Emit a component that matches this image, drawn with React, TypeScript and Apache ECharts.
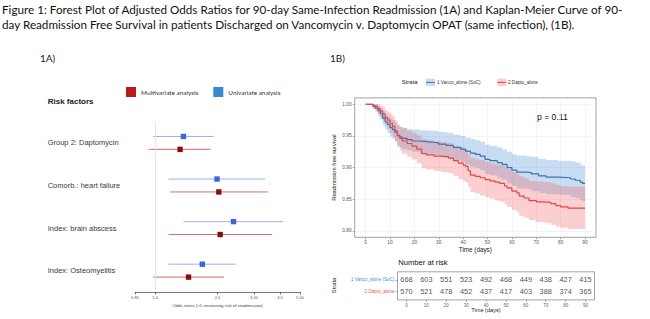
import React, { useEffect, useRef } from "react";
import * as echarts from "echarts";

// ---------- 1A: forest plot ----------
const riskFactors = [
  "Group 2: Daptomycin",
  "Comorb.: heart failure",
  "Index: brain abscess",
  "Index: Osteomyelitis",
];
const uniOR = [1.37, 1.99, 2.39, 1.69];
const uniLow = [0.98, 1.16, 1.37, 1.16];
const uniHigh = [1.92, 3.39, 4.15, 2.45];
const multiOR = [1.32, 2.03, 2.06, 1.45];
const multiLow = [0.93, 1.18, 1.16, 0.98];
const multiHigh = [1.85, 3.5, 3.67, 2.15];
const orTicks = [0.8, 1, 2, 3, 4, 5];
const orTickLabels = ["0.80", "1.0", "2.0", "3.00", "4.0", "5.00"];

// ---------- 1B: Kaplan-Meier ----------
const vancoTime = [0, 3, 4, 5, 6, 7, 8, 9, 10, 11, 12, 13, 14, 15, 17, 19, 22, 25, 28, 30, 33, 36, 39, 41, 43, 45, 47, 49, 51, 54, 56, 58, 60, 62, 66, 68, 71, 74, 79, 84, 86, 88, 89, 90];
const vancoSurv = [1.0, 0.997, 0.994, 0.99, 0.985, 0.978, 0.972, 0.968, 0.963, 0.96, 0.956, 0.951, 0.948, 0.946, 0.944, 0.942, 0.941, 0.94, 0.939, 0.937, 0.935, 0.932, 0.929, 0.926, 0.923, 0.921, 0.918, 0.913, 0.911, 0.908, 0.905, 0.9, 0.896, 0.893, 0.892, 0.89, 0.887, 0.885, 0.884, 0.882, 0.88, 0.877, 0.875, 0.874];
const vancoLower = [1.0, 0.993, 0.988, 0.982, 0.976, 0.967, 0.96, 0.955, 0.949, 0.945, 0.941, 0.935, 0.932, 0.929, 0.927, 0.925, 0.923, 0.922, 0.92, 0.918, 0.915, 0.912, 0.908, 0.905, 0.901, 0.899, 0.896, 0.89, 0.888, 0.884, 0.881, 0.875, 0.871, 0.867, 0.866, 0.863, 0.86, 0.858, 0.857, 0.854, 0.852, 0.849, 0.847, 0.846];
const vancoUpper = [1.0, 1.0, 1.0, 0.997, 0.994, 0.989, 0.984, 0.981, 0.977, 0.975, 0.971, 0.967, 0.964, 0.963, 0.961, 0.96, 0.959, 0.958, 0.958, 0.956, 0.955, 0.952, 0.95, 0.947, 0.945, 0.943, 0.941, 0.936, 0.934, 0.932, 0.929, 0.925, 0.921, 0.919, 0.918, 0.917, 0.914, 0.912, 0.911, 0.91, 0.908, 0.905, 0.903, 0.902];

const daptoTime = [0, 3, 5, 6, 7, 8, 9, 10, 11, 12, 13, 14, 15, 17, 19, 21, 23, 25, 28, 31, 34, 36, 38, 40, 41, 42, 43, 45, 47, 49, 51, 53, 55, 57, 58, 60, 62, 63, 65, 67, 70, 73, 76, 78, 80, 83, 90];
const daptoSurv = [1.0, 0.997, 0.993, 0.989, 0.985, 0.979, 0.975, 0.97, 0.965, 0.958, 0.95, 0.946, 0.942, 0.938, 0.934, 0.929, 0.922, 0.92, 0.918, 0.917, 0.915, 0.911, 0.907, 0.904, 0.902, 0.895, 0.888, 0.886, 0.884, 0.881, 0.879, 0.877, 0.875, 0.871, 0.868, 0.863, 0.86, 0.855, 0.852, 0.848, 0.846, 0.845, 0.843, 0.84, 0.838, 0.836, 0.836];
const daptoLower = [1.0, 0.992, 0.985, 0.979, 0.974, 0.966, 0.961, 0.955, 0.949, 0.941, 0.932, 0.927, 0.922, 0.917, 0.913, 0.907, 0.899, 0.897, 0.895, 0.893, 0.891, 0.887, 0.882, 0.879, 0.877, 0.869, 0.861, 0.859, 0.856, 0.853, 0.851, 0.848, 0.846, 0.842, 0.838, 0.833, 0.829, 0.824, 0.821, 0.817, 0.814, 0.813, 0.81, 0.807, 0.805, 0.803, 0.803];
const daptoUpper = [1.0, 1.0, 1.0, 0.998, 0.996, 0.991, 0.988, 0.985, 0.981, 0.975, 0.968, 0.965, 0.962, 0.958, 0.955, 0.951, 0.945, 0.943, 0.941, 0.94, 0.939, 0.935, 0.932, 0.929, 0.927, 0.921, 0.915, 0.913, 0.912, 0.909, 0.907, 0.905, 0.904, 0.9, 0.897, 0.893, 0.89, 0.886, 0.883, 0.879, 0.878, 0.877, 0.875, 0.873, 0.871, 0.87, 0.87];

const timeTicks = [0, 10, 20, 30, 40, 50, 60, 70, 80, 90];
const survTicks = [0.8, 0.85, 0.9, 0.95, 1.0];

// Number at risk
const strataNames = ["1 Vanco_alone (SoC)", "2 Dapto_alone"];
const riskTimes = [0, 10, 20, 30, 40, 50, 60, 70, 80, 90];
const vancoAtRisk = [668, 603, 551, 523, 492, 468, 449, 438, 427, 415];
const daptoAtRisk = [570, 521, 478, 452, 437, 417, 403, 388, 374, 365];

const titleLines = [
  "Figure 1: Forest Plot of Adjusted Odds Ratios for 90-day Same-Infection Readmission (1A) and Kaplan-Meier Curve of 90-",
  "day Readmission Free Survival in patients Discharged on Vancomycin v. Daptomycin OPAT (same infection), (1B).",
];

const SANS = "Liberation Sans, Arial, sans-serif";
const LATO = "Lato, sans-serif";

const VANCO_LINE = "#3e72a8";
const DAPTO_LINE = "#e2474c";
const VANCO_FILL = "rgba(74,144,217,0.30)";
const DAPTO_FILL = "rgba(242,96,96,0.30)";

function forestSeries(name: string, lo: number[], est: number[], hi: number[], offset: number, lineColor: string, markColor: string) {
  return {
    type: "custom",
    name,
    xAxisIndex: 0,
    yAxisIndex: 0,
    data: est.map((e, i) => [i, lo[i], e, hi[i]]),
    encode: { x: [1, 2, 3], y: 0 },
    renderItem: (_params: any, api: any) => {
      const y = api.value(0) + offset;
      const p1 = api.coord([api.value(1), y]);
      const p2 = api.coord([api.value(3), y]);
      const pc = api.coord([api.value(2), y]);
      const s = 5.4;
      return {
        type: "group",
        children: [
          { type: "line", shape: { x1: p1[0], y1: p1[1], x2: p2[0], y2: p2[1] }, style: { stroke: lineColor, lineWidth: 0.9 } },
          { type: "rect", shape: { x: pc[0] - s / 2, y: pc[1] - s / 2, width: s, height: s }, style: { fill: markColor } },
        ],
      };
    },
  };
}

// Confidence band drawn as one stepped polygon (upper edge forward, lower edge back)
function bandSeries(time: number[], lower: number[], upper: number[], fill: string) {
  return {
    type: "custom",
    xAxisIndex: 1,
    yAxisIndex: 1,
    silent: true,
    z: 1,
    data: time.map((t, i) => [t, lower[i], upper[i]]),
    encode: { x: 0, y: [1, 2] },
    renderItem: (params: any, api: any) => {
      if (params.dataIndex !== 0) return null;
      const n = time.length;
      const top: number[][] = [];
      const bottom: number[][] = [];
      for (let i = 0; i < n; i++) {
        const tEnd = i < n - 1 ? time[i + 1] : time[i];
        top.push(api.coord([time[i], upper[i]]), api.coord([tEnd, upper[i]]));
        bottom.push(api.coord([time[i], lower[i]]), api.coord([tEnd, lower[i]]));
      }
      return {
        type: "polygon",
        shape: { points: top.concat(bottom.reverse()) },
        style: { fill },
      };
    },
  };
}

function curveSeries(time: number[], surv: number[], line: string, name: string) {
  return {
    type: "line",
    name,
    xAxisIndex: 1,
    yAxisIndex: 1,
    step: "end",
    symbol: "none",
    lineStyle: { color: line, width: 1.2 },
    data: time.map((t, i) => [t, surv[i]]),
    z: 3,
  };
}

function riskSeries(row: number, counts: number[]) {
  return {
    type: "scatter",
    xAxisIndex: 2,
    yAxisIndex: 2,
    symbolSize: 1,
    itemStyle: { color: "rgba(0,0,0,0)" },
    data: riskTimes.map((t, i) => [t, row, counts[i]]),
    label: {
      show: true,
      position: "inside",
      formatter: (p: any) => String(p.value[2]),
      fontSize: 7.4,
      fontFamily: SANS,
      color: "#1a1a1a",
    },
  };
}

function buildOption() {
  const t = (text: string, x: number, y: number, extra: any = {}) => ({
    type: "text",
    x,
    y,
    style: { text, fill: "#1a1a1a", verticalAlign: "middle", fontFamily: SANS, ...extra },
  });
  return {
    animation: false,
    backgroundColor: "#ffffff",
    legend: {
      data: [
        { name: "Multivariate analysis", itemStyle: { color: "#b51d1d" } },
        { name: "Univariate analysis", itemStyle: { color: "#3a86cf" } },
      ],
      left: 126,
      top: 87,
      padding: 0,
      icon: "rect",
      itemWidth: 10,
      itemHeight: 10,
      itemGap: 15,
      selectedMode: false,
      textStyle: { fontSize: 6.4, color: "#333", fontFamily: LATO },
    },
    grid: [
      { left: 135, top: 121.7, width: 165, height: 170.3 },
      { left: 354.7, top: 97.9, width: 241.3, height: 139.4, show: true, borderColor: "#8c8c8c", borderWidth: 0.8 },
      { left: 397.5, top: 271.8, width: 197, height: 28.1, show: true, borderColor: "#8c8c8c", borderWidth: 0.8 },
    ],
    xAxis: [
      {
        gridIndex: 0,
        type: "log",
        logBase: 10,
        min: 0.8,
        max: 5,
        axisLine: { onZero: false, lineStyle: { color: "#555", width: 0.8 } },
        axisTick: { customValues: orTicks, length: 2.5, lineStyle: { color: "#555", width: 0.8 } },
        axisLabel: {
          customValues: orTicks,
          formatter: (v: number) => {
            let best = 0;
            orTicks.forEach((o, i) => { if (Math.abs(o - v) < Math.abs(orTicks[best] - v)) best = i; });
            return orTickLabels[best];
          },
          fontSize: 4,
          color: "#555",
          margin: 3,
          fontFamily: SANS,
        },
        splitLine: { show: false },
        minorTick: { show: false },
        name: "Odds ratios (>1 increasing risk of readmission)",
        nameLocation: "middle",
        nameGap: 8,
        nameTextStyle: { fontSize: 4.4, color: "#444", fontFamily: SANS },
      },
      {
        gridIndex: 1,
        type: "value",
        min: -4.5,
        max: 94.5,
        axisLine: { show: false, onZero: false },
        axisTick: { customValues: timeTicks, length: 2, lineStyle: { color: "#777", width: 0.6 } },
        axisLabel: { customValues: timeTicks, fontSize: 4.8, color: "#555", margin: 3, fontFamily: SANS },
        splitLine: { show: true, lineStyle: { color: "#ececec", width: 0.6 } },
        name: "Time (days)",
        nameLocation: "middle",
        nameGap: 8.5,
        nameTextStyle: { fontSize: 6.3, color: "#222", fontFamily: SANS },
      },
      {
        gridIndex: 2,
        type: "value",
        min: -4.5,
        max: 94.5,
        axisLine: { show: false, onZero: false },
        axisTick: { customValues: riskTimes, length: 2, lineStyle: { color: "#777", width: 0.6 } },
        axisLabel: { customValues: riskTimes, fontSize: 4.5, color: "#666", margin: 3, fontFamily: SANS },
        splitLine: { show: false },
      },
    ],
    yAxis: [
      {
        gridIndex: 0,
        type: "value",
        inverse: true,
        min: -0.5,
        max: 3.5,
        axisLine: { show: false, onZero: false },
        axisTick: { show: false },
        splitLine: { show: false },
        axisLabel: {
          customValues: [0, 1, 2, 3],
          formatter: (v: number) => riskFactors[Math.round(v)] ?? "",
          align: "left",
          margin: 87.3,
          fontSize: 7.5,
          color: "#3a3a3a",
          fontFamily: SANS,
        },
      },
      {
        gridIndex: 1,
        type: "value",
        min: 0.79,
        max: 1.01,
        axisLine: { show: false, onZero: false },
        axisTick: { customValues: survTicks, length: 2, lineStyle: { color: "#777", width: 0.6 } },
        axisLabel: {
          customValues: survTicks,
          formatter: (v: number) => Number(v).toFixed(2),
          fontSize: 4.8,
          color: "#555",
          margin: 3,
          fontFamily: SANS,
        },
        splitLine: { show: true, lineStyle: { color: "#ececec", width: 0.6 } },
        name: "Readmission free survival",
        nameLocation: "middle",
        nameGap: 18,
        nameTextStyle: { fontSize: 5.8, color: "#222", fontFamily: SANS },
      },
      {
        gridIndex: 2,
        type: "value",
        inverse: true,
        min: 0.3,
        max: 2.7,
        axisLine: { show: false, onZero: false },
        axisTick: { customValues: [1, 2], length: 2, lineStyle: { color: "#777", width: 0.6 } },
        axisLabel: {
          customValues: [1, 2],
          formatter: (v: number) => strataNames[Math.round(v) - 1] ?? "",
          color: (v: any) => (String(v) === "1" ? "#4a8fd4" : "#e85a5a"),
          fontSize: 4.6,
          margin: 3,
          fontFamily: SANS,
        },
        splitLine: { show: false },
      },
    ],
    series: [
      {
        ...forestSeries("Univariate analysis", uniLow, uniOR, uniHigh, -0.153, "#8fa9ec", "#3c64dc"),
        markLine: {
          silent: true,
          symbol: "none",
          label: { show: false },
          lineStyle: { color: "#e2e2e2", type: "solid", width: 0.8 },
          data: [{ xAxis: 1 }],
        },
      },
      forestSeries("Multivariate analysis", multiLow, multiOR, multiHigh, 0.15, "#d65b5b", "#8b0d0d"),
      bandSeries(vancoTime, vancoLower, vancoUpper, VANCO_FILL),
      bandSeries(daptoTime, daptoLower, daptoUpper, DAPTO_FILL),
      curveSeries(vancoTime, vancoSurv, VANCO_LINE, strataNames[0]),
      curveSeries(daptoTime, daptoSurv, DAPTO_LINE, strataNames[1]),
      riskSeries(1, vancoAtRisk),
      riskSeries(2, daptoAtRisk),
    ],
    graphic: [
      t(titleLines[0], 2, 9, { fontSize: 11.7, fontFamily: LATO, fill: "#111" }),
      t(titleLines[1], 2, 24, { fontSize: 11.7, fontFamily: LATO, fill: "#111" }),
      t("1A)", 40, 58.3, { fontSize: 10, fontFamily: LATO }),
      t("1B)", 330, 58.3, { fontSize: 10, fontFamily: LATO }),
      t("Risk factors", 47.7, 101, { fontSize: 8, fontWeight: "bold", fill: "#222" }),
      // KM legend
      t("Strata", 401.7, 82.3, { fontSize: 6, fill: "#222" }),
      { type: "rect", shape: { x: 426, y: 78.7, width: 9, height: 7.4 }, style: { fill: VANCO_FILL } },
      { type: "line", shape: { x1: 426, y1: 82.4, x2: 435, y2: 82.4 }, style: { stroke: VANCO_LINE, lineWidth: 1 } },
      t(strataNames[0], 437, 82.4, { fontSize: 4.6, fill: "#333" }),
      { type: "rect", shape: { x: 497.3, y: 78.7, width: 9, height: 7.4 }, style: { fill: DAPTO_FILL } },
      { type: "line", shape: { x1: 497.3, y1: 82.4, x2: 506.3, y2: 82.4 }, style: { stroke: DAPTO_LINE, lineWidth: 1 } },
      t(strataNames[1], 508, 82.4, { fontSize: 4.6, fill: "#333" }),
      t("p = 0.11", 537, 117.3, { fontSize: 8.6, fill: "#111" }),
      // risk table
      t("Number at risk", 398.3, 262.3, { fontSize: 7.6, fill: "#111" }),
      t("Time (days)", 486, 309.5, { fontSize: 5.6, fill: "#222", align: "center" }),
      { type: "text", x: 334, y: 285.5, rotation: Math.PI / 2, style: { text: "Strata", fontSize: 5.8, fill: "#222", fontFamily: SANS, align: "center", verticalAlign: "middle" } },
    ],
  };
}

export default function App() {
  const ref = useRef<HTMLDivElement>(null);
  useEffect(() => {
    if (!ref.current) return;
    const chart = echarts.init(ref.current, undefined, { renderer: "svg" });
    chart.setOption(buildOption() as any);
    return () => chart.dispose();
  }, []);
  return <div ref={ref} style={{ position: "fixed", left: 0, top: 0, width: 650, height: 319, background: "#fff" }} />;
}
